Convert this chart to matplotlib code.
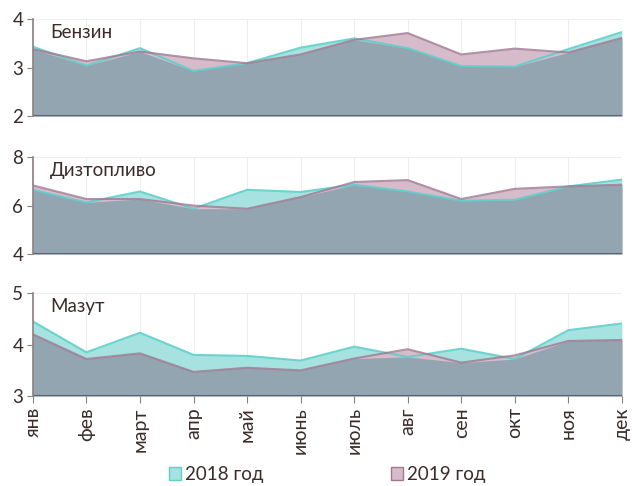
import numpy as np
import matplotlib
matplotlib.use("Agg")
import matplotlib.pyplot as plt
from matplotlib.patches import Patch

plt.rcParams['font.family'] = ['Lato', 'DejaVu Sans']

months = ['янв', 'фев', 'март', 'апр', 'май', 'июнь', 'июль', 'авг', 'сен', 'окт', 'ноя', 'дек']
titles = ['Бензин', 'Дизтопливо', 'Мазут']

benzin_2018 = [3.43, 3.04, 3.40, 2.93, 3.09, 3.41, 3.60, 3.40, 3.03, 3.02, 3.38, 3.73]
benzin_2019 = [3.38, 3.13, 3.33, 3.19, 3.09, 3.27, 3.57, 3.71, 3.27, 3.39, 3.31, 3.61]
diesel_2018 = [6.65, 6.13, 6.58, 5.87, 6.65, 6.56, 6.86, 6.58, 6.20, 6.24, 6.79, 7.07]
diesel_2019 = [6.83, 6.27, 6.27, 6.00, 5.87, 6.35, 6.97, 7.05, 6.27, 6.69, 6.79, 6.86]
mazut_2018 = [4.45, 3.85, 4.23, 3.80, 3.78, 3.69, 3.96, 3.76, 3.92, 3.72, 4.28, 4.41]
mazut_2019 = [4.20, 3.72, 3.83, 3.47, 3.55, 3.50, 3.73, 3.91, 3.65, 3.79, 4.07, 4.09]

ylims = [(2, 4), (4, 8), (3, 5)]
yticks = [[2, 3, 4], [4, 6, 8], [3, 4, 5]]
series = [(benzin_2018, benzin_2019), (diesel_2018, diesel_2019), (mazut_2018, mazut_2019)]

c18_fill = '#a6e3e0'
c18_line = '#5fcfcb'
c19_fill = '#d6bccb'
c19_line = '#a07890'
both_fill = '#93a5b0'
txt = '#3b2b2b'

fig = plt.figure(figsize=(6.32, 4.86), dpi=100)
boxes = [(0.052, 0.761, 0.932, 0.200), (0.052, 0.477, 0.932, 0.200), (0.052, 0.185, 0.932, 0.212)]

x = np.arange(len(months))
for i, (s18, s19) in enumerate(series):
    ax = fig.add_axes(boxes[i])
    a = np.array(s18)
    b = np.array(s19)
    lo = ylims[i][0]
    ax.fill_between(x, lo, a, color=c18_fill, lw=0)
    ax.fill_between(x, lo, b, color=c19_fill, lw=0)
    ax.fill_between(x, lo, np.minimum(a, b), color=both_fill, lw=0)
    ax.plot(x, a, color=c18_line, lw=1.5, alpha=0.9)
    ax.plot(x, b, color=c19_line, lw=1.5, alpha=0.8)
    ax.axhline(lo, color='#5d6478', lw=1.5)
    ax.set_xlim(0, 11)
    ax.set_ylim(*ylims[i])
    ax.set_yticks(yticks[i])
    ax.tick_params(axis='y', labelsize=13.5, colors='#8a8080', labelcolor=txt, length=4, pad=3)
    for xi in x:
        ax.axvline(xi, color='#eeeeee', lw=0.8, zorder=0)
    ax.axhline(ylims[i][1], color='#eeeeee', lw=0.8, zorder=0)
    for sp in ['top', 'right', 'bottom']:
        ax.spines[sp].set_visible(False)
    ax.spines['left'].set_color('#8a8080')
    ax.spines['left'].set_linewidth(1.2)
    ax.text(0.32, ylims[i][1] - (ylims[i][1] - lo) * 0.135, titles[i], fontsize=13.5,
            color=txt, va='center', ha='left')
    if i < 2:
        ax.set_xticks([])
    else:
        ax.set_xticks(x)
        ax.set_xticklabels(months, rotation=90, fontsize=14, color=txt)
        ax.tick_params(axis='x', colors='#8a8080', labelcolor=txt, length=5, pad=3)

handles = [Patch(facecolor=c18_fill, edgecolor=c18_line, label='2018 год'),
           Patch(facecolor=c19_fill, edgecolor=c19_line, label='2019 год')]
fig.legend(handles=handles, loc='center', bbox_to_anchor=(0.518, 0.023), ncol=2, frameon=False,
           fontsize=13.5, labelcolor=txt, handlelength=0.65, handleheight=0.65, handletextpad=0.2,
           columnspacing=6.8)

plt.savefig('out.png', dpi=100)
